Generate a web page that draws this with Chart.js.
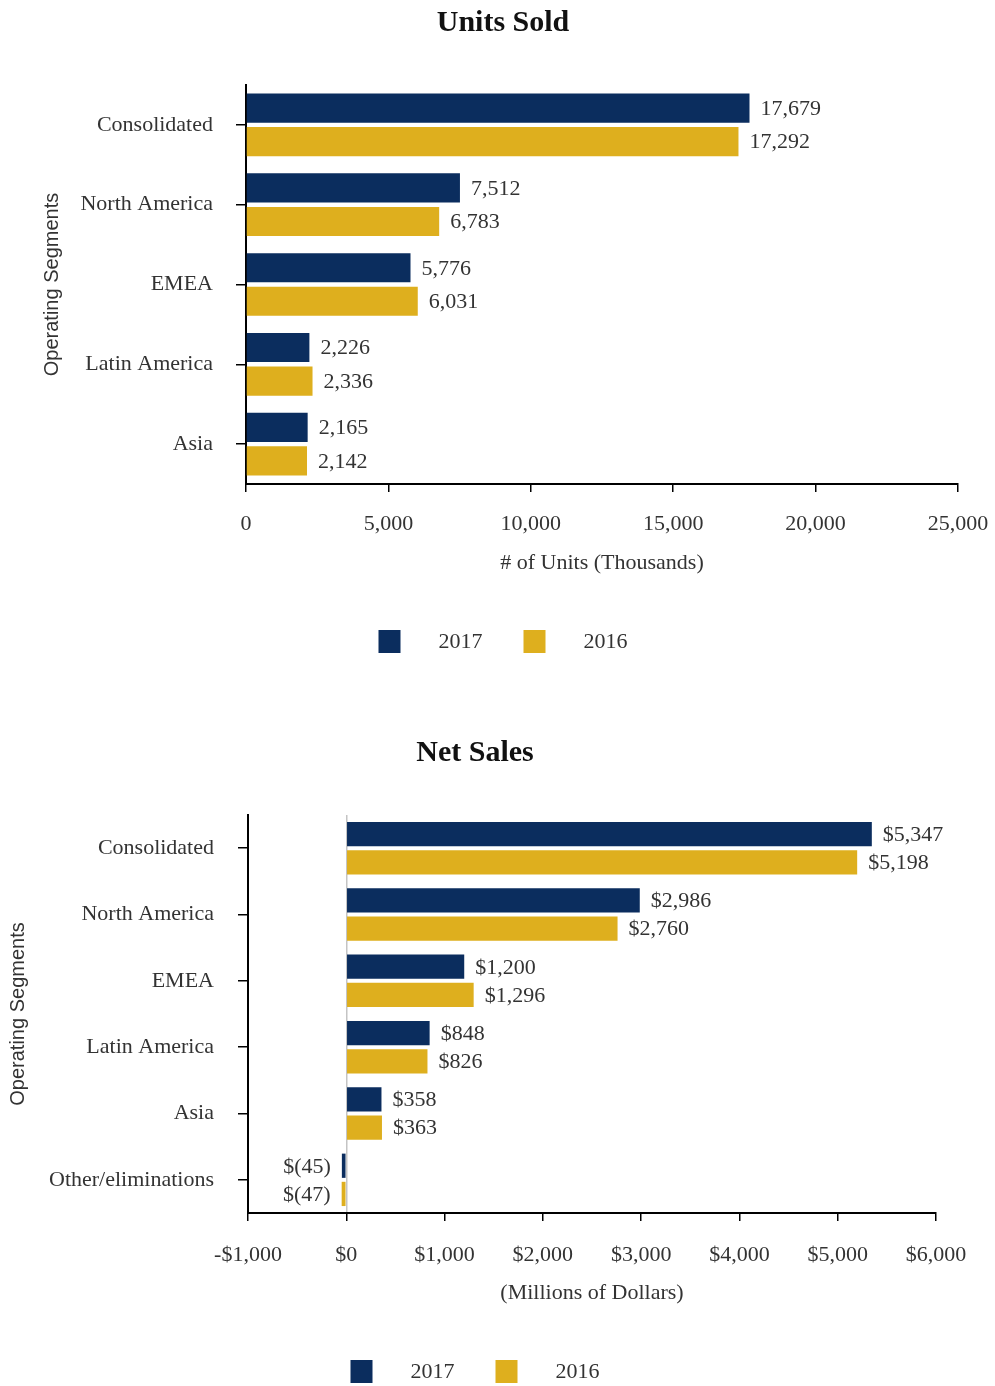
<!DOCTYPE html>
<html>
<head>
<meta charset="utf-8">
<script src="https://cdn.jsdelivr.net/npm/chart.js@4.4.1/dist/chart.umd.min.js"></script>
<style>
  html, body { margin: 0; padding: 0; background: #fff; }
  #page { position: relative; width: 995px; height: 1386px; }
  canvas { position: absolute; left: 0; }
</style>
</head>
<body>
<div id="page">
  <canvas id="unitsChart" width="995" height="693" style="top:0"></canvas>
  <canvas id="salesChart" width="995" height="693" style="top:693px"></canvas>
</div>
<script>
// data
const seriesLabels = ['2017', '2016'];
const seriesColors = ['#0b2d5e', '#deaf1e'];

const unitCategories = ['Consolidated', 'North America', 'EMEA', 'Latin America', 'Asia'];
const units2017 = [17679, 7512, 5776, 2226, 2165];
const units2016 = [17292, 6783, 6031, 2336, 2142];
const unitsRange = [0, 25000, 5000];

const salesCategories = ['Consolidated', 'North America', 'EMEA', 'Latin America', 'Asia', 'Other/eliminations'];
const sales2017 = [5347, 2986, 1200, 848, 358, -45];
const sales2016 = [5198, 2760, 1296, 826, 363, -47];
const salesRange = [-1000, 6000, 1000];

const SERIF = '"Liberation Serif", "Times New Roman", serif';
const SANS = '"Liberation Sans", Arial, sans-serif';
const TEXT = '#333';

const fmt = v => Math.abs(v).toLocaleString('en-US');
const dollars = v => v < 0 ? '$(' + fmt(v) + ')' : '$' + fmt(v);
const dollarTick = v => v < 0 ? '-$' + fmt(v) : '$' + fmt(v);

// title, legend and value labels
const decor = {
    id: 'decor',
    afterDatasetsDraw(chart, args, opts) {
        const ctx = chart.ctx;
        ctx.save();
        ctx.font = '22px ' + SERIF;
        ctx.fillStyle = TEXT;
        ctx.textBaseline = 'middle';
        chart.data.datasets.forEach((ds, di) => {
            chart.getDatasetMeta(di).data.forEach((bar, i) => {
                const v = ds.data[i];
                const neg = v < 0;
                ctx.textAlign = neg ? 'right' : 'left';
                ctx.fillText(opts.format(v), bar.x + (neg ? -11 : 11), bar.y + 1);
            });
        });
        ctx.restore();
    },
    afterDraw(chart, args, opts) {
        const ctx = chart.ctx;
        ctx.save();
        ctx.fillStyle = '#111';
        ctx.font = 'bold 30px ' + SERIF;
        ctx.textAlign = 'center';
        ctx.textBaseline = 'alphabetic';
        ctx.fillText(opts.title, opts.centerX, opts.titleY);

        // legend
        ctx.font = '22px ' + SERIF;
        const box = 22, boxGap = 38, itemGap = 41;
        const items = chart.data.datasets.map(ds => ({ label: ds.label, color: ds.backgroundColor, w: ctx.measureText(ds.label).width }));
        let total = 0;
        items.forEach((it, i) => { total += box + boxGap + it.w + (i < items.length - 1 ? itemGap : 0); });
        let x = opts.centerX - total / 2;
        ctx.textAlign = 'left';
        items.forEach(it => {
            ctx.fillStyle = it.color;
            ctx.fillRect(x, opts.legendY - box + 4, box, box + 1);
            x += box + boxGap;
            ctx.fillStyle = TEXT;
            ctx.fillText(it.label, x, opts.legendY);
            x += it.w + itemGap;
        });
        ctx.restore();
    }
};

function makeChart(id, cfg) {
    return new Chart(document.getElementById(id), {
        type: 'bar',
        data: {
            labels: cfg.labels,
            datasets: cfg.series.map((data, i) => ({
                label: seriesLabels[i],
                data,
                backgroundColor: seriesColors[i],
                borderWidth: 0,
                categoryPercentage: cfg.catPct,
                barPercentage: cfg.barPct
            }))
        },
        options: {
            indexAxis: 'y',
            responsive: false,
            animation: false,
            layout: { padding: cfg.padding },
            plugins: {
                legend: { display: false },
                title: { display: false },
                tooltip: { enabled: false },
                decor: cfg.decor
            },
            scales: {
                x: {
                    min: cfg.range[0],
                    max: cfg.range[1],
                    // fixed height, and let the layout padding alone decide the side margins
                    afterFit: s => { s.height = 96; s.paddingLeft = 0; s.paddingRight = 0; },
                    border: { color: '#000', width: 2 },
                    grid: {
                        drawOnChartArea: cfg.zeroLine,
                        color: c => (c.tick && c.tick.value === 0) ? '#c4c4c4' : 'rgba(0,0,0,0)',
                        tickColor: '#000',
                        tickLength: 8,
                        lineWidth: 1.5
                    },
                    ticks: {
                        stepSize: cfg.range[2],
                        padding: cfg.xTickPad,
                        color: TEXT,
                        font: { family: SERIF, size: 22 },
                        maxRotation: 0,
                        callback: cfg.tick
                    },
                    title: {
                        display: true,
                        text: cfg.xTitle,
                        color: TEXT,
                        font: { family: SERIF, size: 22 },
                        padding: { top: 0, bottom: cfg.xTitlePad }
                    }
                },
                y: {
                    afterFit: s => { s.width = cfg.yWidth; },
                    border: { color: '#000', width: 2 },
                    grid: {
                        offset: false,
                        drawOnChartArea: false,
                        tickColor: '#000',
                        tickLength: 10,
                        lineWidth: 1.5
                    },
                    ticks: {
                        padding: cfg.yTickPad,
                        color: TEXT,
                        font: { family: SERIF, size: 22 }
                    },
                    title: {
                        display: true,
                        text: 'Operating Segments',
                        color: TEXT,
                        font: { family: SANS, size: 20 },
                        padding: { top: 0, bottom: 0 }
                    }
                }
            }
        },
        plugins: [decor]
    });
}

makeChart('unitsChart', {
    labels: unitCategories,
    series: [units2017, units2016],
    range: unitsRange,
    catPct: 0.84, barPct: 0.87,
    padding: { left: 40, right: 37, top: 85, bottom: 113 },
    yWidth: 206, yTickPad: 23, xTickPad: 19, xTitlePad: 4,
    zeroLine: false,
    xTitle: '# of Units (Thousands)',
    tick: v => fmt(v),
    decor: { title: 'Units Sold', centerX: 503, titleY: 31, legendY: 648, format: fmt }
});

makeChart('salesChart', {
    labels: salesCategories,
    series: [sales2017, sales2016],
    range: salesRange,
    catPct: 0.85, barPct: 0.86,
    padding: { left: 6, right: 59, top: 122, bottom: 77 },
    yWidth: 242, yTickPad: 24, xTickPad: 21, xTitlePad: 3,
    zeroLine: true,
    xTitle: '(Millions of Dollars)',
    tick: dollarTick,
    decor: { title: 'Net Sales', centerX: 475, titleY: 68, legendY: 685, format: dollars }
});
</script>
</body>
</html>
